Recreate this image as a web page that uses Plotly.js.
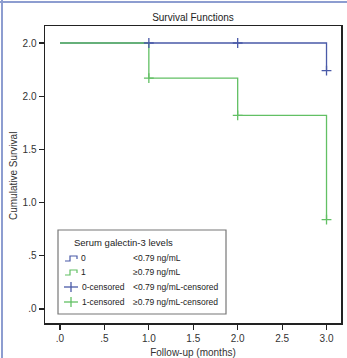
<!DOCTYPE html>
<html><head><meta charset="utf-8">
<script src="https://cdn.plot.ly/plotly-3.0.1.min.js"></script>
<style>html,body{margin:0;padding:0;background:#fff;}#chart{width:347px;height:358px;}</style>
</head><body><div id="chart"></div>
<script>
// Data
var time0 = [0, 3];
var surv0 = [2.5, 2.24];
var cens0Time = [1, 2, 3];
var cens0Surv = [2.5, 2.5, 2.24];
var time1 = [0, 1, 2, 3];
var surv1 = [2.5, 2.17, 1.82, 0.84];
var cens1Time = [1, 2, 3];
var cens1Surv = [2.17, 1.82, 0.84];
var xTickVals = [0, 0.5, 1, 1.5, 2, 2.5, 3];
var xTickText = [".0", ".5", "1.0", "1.5", "2.0", "2.5", "3.0"];
var yTickVals = [0, 0.5, 1, 1.5, 2, 2.5];
var yTickText = [".0", ".5", "1.0", "1.5", "2.0", "2.0"];
var legendTitle = "Serum galectin-3 levels";
var legendNames = ["0", "1", "0-censored", "1-censored"];
var legendDesc = ["<0.79 ng/mL", "\u22650.79 ng/mL", "<0.79 ng/mL-censored", "\u22650.79 ng/mL-censored"];

var BLUE = "#4a5aa8", GREEN = "#62c064";
var W = 347, H = 358, L = 45, R = 6, T = 26, B = 35;
var pw = W - L - R, ph = H - T - B;
function px(x){ return (x - L) / pw; }
function py(y){ return (H - B - y) / ph; }

var traces = [
  {x: time0, y: surv0, mode: "lines", line: {shape: "hv", color: BLUE, width: 1.3}, showlegend: false, hoverinfo: "skip"},
  {x: time1, y: surv1, mode: "lines", line: {shape: "hv", color: GREEN, width: 1.3}, showlegend: false, hoverinfo: "skip"},
  {x: cens0Time, y: cens0Surv, mode: "markers", marker: {symbol: "cross-thin", size: 7, line: {color: BLUE, width: 1.3}}, showlegend: false, hoverinfo: "skip"},
  {x: cens1Time, y: cens1Surv, mode: "markers", marker: {symbol: "cross-thin", size: 7, line: {color: GREEN, width: 1.3}}, showlegend: false, hoverinfo: "skip"}
];

var fontF = "Liberation Sans, Arial, sans-serif";
var shapes = [
  {type: "line", xref: "paper", yref: "paper", x0: px(2), x1: px(2), y0: py(0), y1: py(H), line: {color: "#8d9dd0", width: 2}},
  {type: "line", xref: "paper", yref: "paper", x0: px(0), x1: px(W), y0: py(2), y1: py(2), line: {color: "#8d9dd0", width: 2}},
  {type: "rect", xref: "paper", yref: "paper", x0: px(58), x1: px(226), y0: py(230), y1: py(314), line: {color: "#777", width: 1.2}, fillcolor: "rgba(255,255,255,0)"}
];
var rowsY = [258, 272, 287, 302];
var colors = [BLUE, GREEN, BLUE, GREEN];
for (var i = 0; i < 2; i++) {
  var yy = rowsY[i];
  shapes.push({type: "path", xref: "paper", yref: "paper",
    path: "M" + px(65) + "," + py(yy + 3) + " L" + px(70) + "," + py(yy + 3) + " L" + px(70) + "," + py(yy - 2) + " L" + px(77) + "," + py(yy - 2) + " L" + px(77) + "," + py(yy + 1),
    line: {color: colors[i], width: 1.2}});
}
for (var j = 2; j < 4; j++) {
  var y2 = rowsY[j];
  shapes.push({type: "line", xref: "paper", yref: "paper", x0: px(64), x1: px(78), y0: py(y2), y1: py(y2), line: {color: colors[j], width: 1.3}});
  shapes.push({type: "line", xref: "paper", yref: "paper", x0: px(71), x1: px(71), y0: py(y2 - 5), y1: py(y2 + 5), line: {color: colors[j], width: 1.3}});
}
var annotations = [
  {text: legendTitle, xref: "paper", yref: "paper", x: px(72), y: py(242), xanchor: "left", yanchor: "middle", showarrow: false, font: {family: fontF, size: 9.5, color: "#222"}},
  {text: "Cumulative Survival", xref: "paper", yref: "paper", x: px(14), y: py(176), xanchor: "center", yanchor: "middle", textangle: -90, showarrow: false, font: {family: fontF, size: 10, color: "#333"}}
];
for (var k = 0; k < 4; k++) {
  annotations.push({text: legendNames[k], xref: "paper", yref: "paper", x: px(k < 2 ? 79 : 80), y: py(rowsY[k]), xanchor: "left", yanchor: "middle", showarrow: false, font: {family: fontF, size: 8.5, color: "#222"}});
  annotations.push({text: legendDesc[k].replace("<", "&lt;"), xref: "paper", yref: "paper", x: px(131), y: py(rowsY[k]), xanchor: "left", yanchor: "middle", showarrow: false, font: {family: fontF, size: 8.5, color: "#222"}});
}

var layout = {
  width: W, height: H,
  margin: {l: L, r: R, t: T, b: B, pad: 0},
  paper_bgcolor: "#fff", plot_bgcolor: "#fff",
  title: {text: "Survival Functions", x: 0.5 * (L + W - R) / W, xanchor: "center", y: 1 - 17 / H, yanchor: "middle", font: {family: fontF, size: 10, color: "#222"}},
  xaxis: {range: [-0.169, 3.163], tickvals: xTickVals, ticktext: xTickText, ticks: "outside", ticklen: 5, tickwidth: 1.2, tickcolor: "#222",
    showline: true, linecolor: "#222", linewidth: 1.5, mirror: true, showgrid: false, zeroline: false,
    tickfont: {family: fontF, size: 10, color: "#333"},
    title: {text: "Follow-up (months)", font: {family: fontF, size: 10, color: "#333"}, standoff: 6}},
  yaxis: {range: [-0.132, 2.66], tickvals: yTickVals, ticktext: yTickText, ticks: "outside", ticklen: 5, tickwidth: 1.2, tickcolor: "#222",
    showline: true, linecolor: "#222", linewidth: 1.5, mirror: true, showgrid: false, zeroline: false,
    tickfont: {family: fontF, size: 10, color: "#333"}},
  shapes: shapes,
  annotations: annotations,
  showlegend: false
};
Plotly.newPlot("chart", traces, layout, {displayModeBar: false, staticPlot: true});
</script></body></html>
